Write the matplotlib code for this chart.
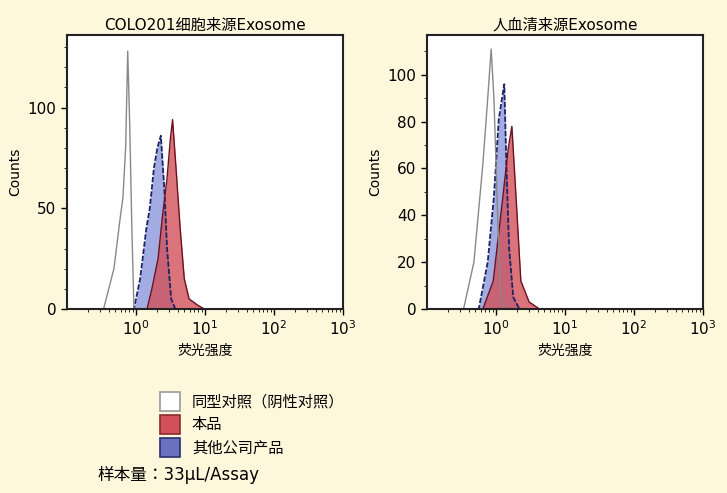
import numpy as np
import matplotlib.pyplot as plt
from matplotlib import font_manager as fm
from matplotlib.patches import Rectangle
from matplotlib.ticker import LogLocator, MultipleLocator

# pick up a CJK font file directly
cjk = [f for f in fm.findSystemFonts() if 'CJK' in f]
for f in cjk:
    fm.fontManager.addfont(f)
cjk_names = sorted({fm.FontProperties(fname=f).get_name() for f in cjk})
sc = [n for n in cjk_names if 'SC' in n] or cjk_names
plt.rcParams['font.family'] = ['DejaVu Sans'] + sc[:1]

# log10 fluorescence positions and counts
# left panel: COLO201
l_gray_x = [-1.0, -0.47, -0.32, -0.23, -0.19, -0.15, -0.12, -0.09, -0.06, -0.03, 3.0]
l_gray_y = [0, 0, 20, 45, 55, 80, 128, 90, 40, 0, 0]
l_blue_x = [-1.0, -0.03, 0.06, 0.15, 0.20, 0.26, 0.31, 0.36, 0.41, 0.45, 0.51, 0.57, 3.0]
l_blue_y = [0, 0, 15, 40, 50, 70, 80, 86, 60, 30, 5, 0, 0]
l_red_x = [-1.0, 0.16, 0.23, 0.32, 0.38, 0.45, 0.50, 0.53, 0.58, 0.64, 0.70, 0.77, 0.89, 0.99, 3.0]
l_red_y = [0, 0, 10, 25, 45, 65, 85, 94, 70, 40, 15, 5, 2, 0, 0]

# right panel: serum
r_gray_x = [-1.0, -0.47, -0.32, -0.19, -0.12, -0.07, -0.03, 0.03, 0.07, 0.12, 3.0]
r_gray_y = [0, 0, 20, 62, 90, 111, 90, 34, 5, 0, 0]
r_blue_x = [-1.0, -0.25, -0.12, -0.03, 0.04, 0.12, 0.15, 0.19, 0.25, 0.34, 3.0]
r_blue_y = [0, 0, 20, 48, 81, 96, 62, 26, 5, 0, 0]
r_red_x = [-1.0, -0.19, -0.04, 0.10, 0.18, 0.23, 0.29, 0.36, 0.48, 0.63, 3.0]
r_red_y = [0, 0, 12, 48, 69, 78, 48, 12, 3, 0, 0]

titles = ['COLO201细胞来源Exosome', '人血清来源Exosome']
legend_labels = ['同型对照（阴性对照）', '本品', '其他公司产品']

bg = '#fdf8dc'
blue_fill = '#8c96dc'
red_fill = '#d2505a'

fig = plt.figure(figsize=(7.27, 4.93), dpi=100, facecolor=bg)
W, H = 727, 493

panels = [
    (67, 136, [0, 50, 100], 10, l_gray_x, l_gray_y, l_blue_x, l_blue_y, l_red_x, l_red_y, titles[0]),
    (427, 117, [0, 20, 40, 60, 80, 100], 10, r_gray_x, r_gray_y, r_blue_x, r_blue_y, r_red_x, r_red_y, titles[1]),
]

for left, ymax, yt, ym, gx, gy, bx, by, rx, ry, title in panels:
    ax = fig.add_axes([left / W, 1 - 309 / H, 276 / W, 274 / H])
    ax.set_facecolor('white')
    ax.set_xscale('log')
    ax.set_xlim(0.1, 1000)
    ax.set_ylim(0, ymax)
    bxv = 10 ** np.array(bx)
    rxv = 10 ** np.array(rx)
    gxv = 10 ** np.array(gx)
    ax.fill_between(bxv, by, color=blue_fill, alpha=0.8, lw=0)
    ax.plot(bxv, by, color='#1c2466', lw=1.3, ls=(0, (3, 1)))
    ax.fill_between(rxv, ry, color=red_fill, alpha=0.8, lw=0)
    ax.plot(rxv, ry, color='#6a1020', lw=1.0)
    ax.plot(gxv, gy, color='#888888', lw=1.0)
    ax.set_xticks([1, 10, 100, 1000])
    ax.set_xticklabels(['$10^0$', '$10^1$', '$10^2$', '$10^3$'])
    ax.xaxis.set_minor_locator(LogLocator(base=10, subs=np.arange(2, 10)))
    ax.set_yticks(yt)
    ax.yaxis.set_minor_locator(MultipleLocator(ym))
    ax.tick_params(labelsize=11, length=4, width=1)
    ax.tick_params(which='minor', length=2)
    ax.set_ylabel('Counts', fontsize=10)
    ax.set_xlabel('荧光强度', fontsize=10)
    ax.set_title(title, fontsize=11, pad=4)
    for s in ax.spines.values():
        s.set_color('#222222')
        s.set_linewidth(1.5)

# legend
items = [('white', '#999999'), (red_fill, '#8a2a30'), ('#6a72c0', '#2a2f70')]
for i, (lab, (fc, ec)) in enumerate(zip(legend_labels, items)):
    y = 392 + i * 23
    fig.patches.append(Rectangle((160 / W, 1 - (y + 19) / H), 20 / W, 19 / H,
                                 transform=fig.transFigure, facecolor=fc, edgecolor=ec, lw=1.2))
    fig.text(192 / W, 1 - (y + 10) / H, lab, fontsize=11, va='center')
fig.text(97 / W, 1 - 475 / H, '样本量：33μL/Assay', fontsize=12, va='center')

fig.savefig('out.png', dpi=100, facecolor=bg)
